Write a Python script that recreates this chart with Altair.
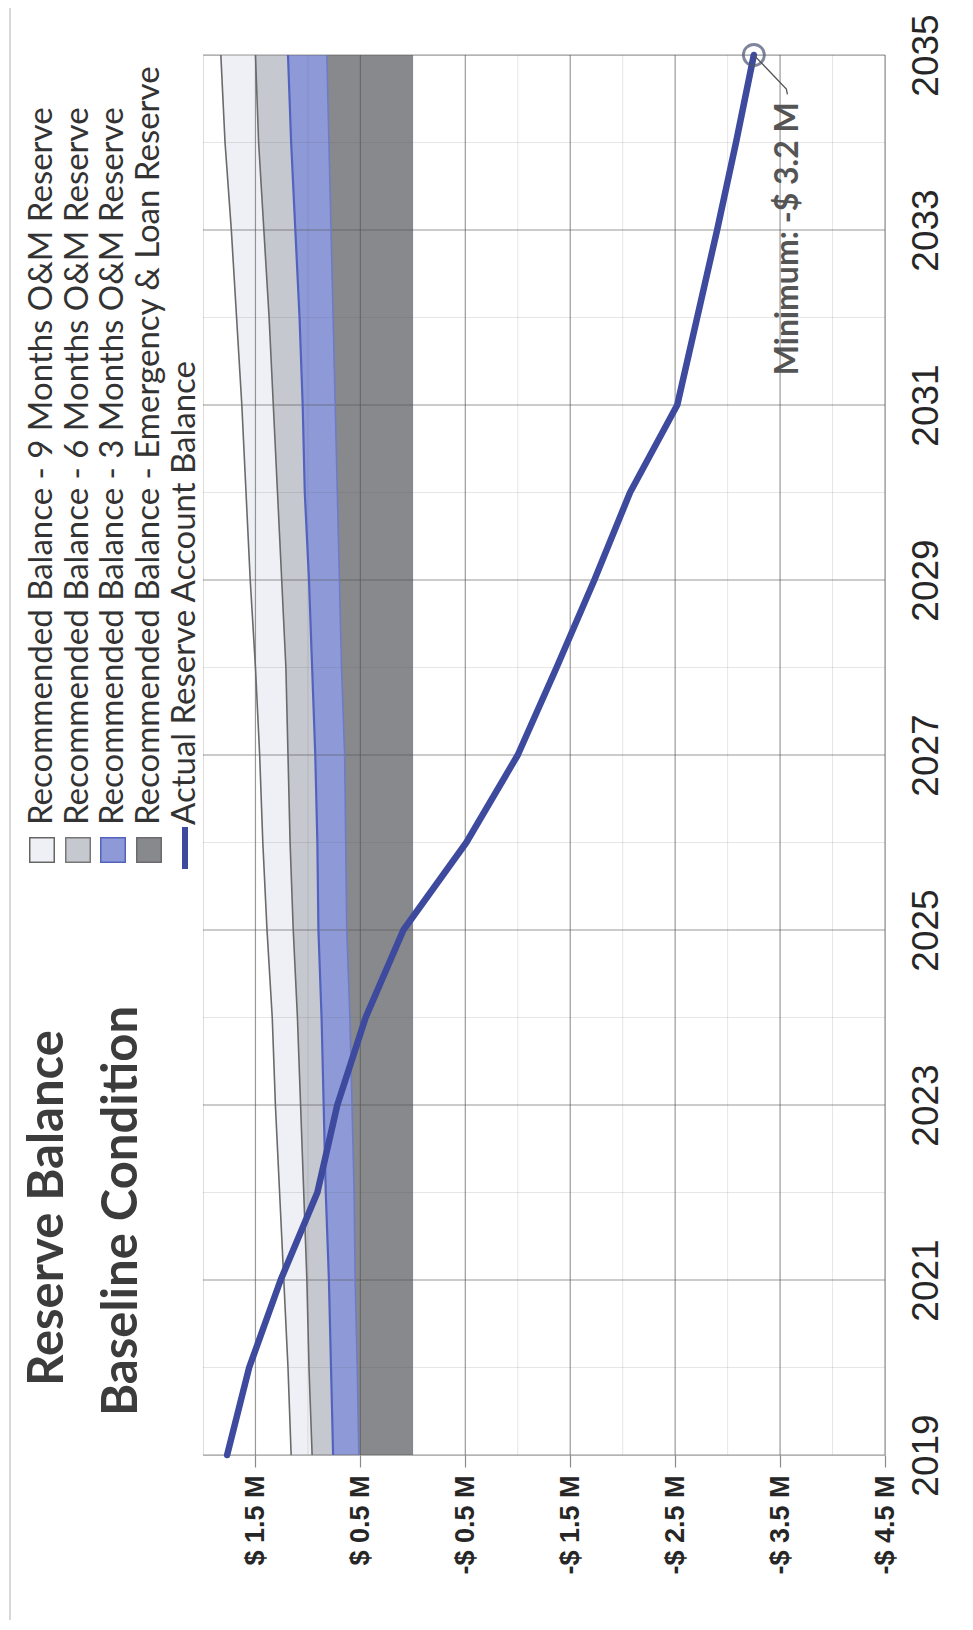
import altair as alt
import pandas as pd

# ---------------- data ----------------
years = list(range(2019, 2036))
actual = [1.77, 1.56, 1.26, 0.91, 0.72, 0.45, 0.09, -0.51, -1.00, -1.37,
          -1.73, -2.07, -2.52, -2.71, -2.90, -3.08, -3.25]
res9 = [1.16, 1.19, 1.23, 1.27, 1.31, 1.34, 1.39, 1.43, 1.46, 1.50,
        1.55, 1.59, 1.63, 1.68, 1.73, 1.79, 1.83]
res6 = [0.96, 0.99, 1.01, 1.04, 1.07, 1.10, 1.14, 1.17, 1.19, 1.21,
        1.25, 1.29, 1.33, 1.37, 1.42, 1.47, 1.50]
res3 = [0.76, 0.78, 0.80, 0.83, 0.85, 0.87, 0.90, 0.91, 0.93, 0.96,
        0.99, 1.03, 1.05, 1.08, 1.12, 1.16, 1.19]
emerg = [0.515, 0.53, 0.55, 0.56, 0.58, 0.60, 0.63, 0.64, 0.65, 0.68,
         0.70, 0.72, 0.74, 0.76, 0.78, 0.80, 0.82]

value_ticks = [1.5, 0.5, -0.5, -1.5, -2.5, -3.5, -4.5]
value_tick_labels = ["$ 1.5 M", "$ 0.5 M", "-$ 0.5 M", "-$ 1.5 M",
                     "-$ 2.5 M", "-$ 3.5 M", "-$ 4.5 M"]
value_minor = [1.0, 0.0, -1.0, -2.0, -3.0, -4.0]
year_ticks = [2019, 2021, 2023, 2025, 2027, 2029, 2031, 2033, 2035]
year_minor = [2020, 2022, 2024, 2026, 2028, 2030, 2032, 2034]

legend_labels = [
    "Recommended Balance - 9 Months O&M Reserve",
    "Recommended Balance - 6 Months O&M Reserve",
    "Recommended Balance - 3 Months O&M Reserve",
    "Recommended Balance - Emergency & Loan Reserve",
    "Actual Reserve Account Balance",
]
title_lines = ["Reserve Balance", "Baseline Condition"]
min_label = "Minimum: -$ 3.2 M"
min_year = 2035
min_value = -3.25

# ---------------- tables ----------------
df = pd.DataFrame({"year": years, "actual": actual, "res9": res9,
                   "res6": res6, "res3": res3, "emerg": emerg})
df["zero"] = 0.0

W, H = 682, 1400
xs = alt.Scale(domain=[-4.5, 2.0], reverse=True, nice=False, zero=False)
ys = alt.Scale(domain=[2019, 2035], nice=False, zero=False)

label_expr = " : ".join(
    f"datum.value == {v} ? '{t}'" for v, t in zip(value_ticks, value_tick_labels)
) + " : ''"

x_axis = alt.Axis(values=value_ticks, labelExpr=label_expr, orient="bottom",
                  grid=False, domain=False, ticks=True, tickSize=12,
                  tickColor="#8a8a8a", tickWidth=1.2,
                  labelAngle=270, labelAlign="right", labelBaseline="middle",
                  labelFont="Liberation Sans", labelFontSize=27,
                  labelFontWeight="bold", labelColor="#262626",
                  labelPadding=8, labelOverlap=False, labelFlush=False,
                  labelBound=False, title=None)
y_axis = alt.Axis(values=year_ticks, format="d", orient="right", grid=False,
                  domain=False, ticks=False, labelAngle=270,
                  labelAlign="center", labelBaseline="top",
                  labelFont="Liberation Sans", labelFontSize=37,
                  labelColor="#262626", labelPadding=23,
                  labelOverlap=False, labelFlush=False, labelBound=False,
                  title=None)


def X(field):
    return alt.X(field, scale=xs, axis=x_axis, title=None)


def Yc(field):
    return alt.Y(field, scale=ys, axis=y_axis, title=None)


base = alt.Chart(df)


def band(field, color):
    return base.mark_area(orient="horizontal", color=color, opacity=1).encode(
        y=Yc("year:Q"), x=X(f"{field}:Q"), x2=alt.X2("zero"))


def edge(field, color, width):
    return base.mark_line(color=color, strokeWidth=width).encode(
        y=Yc("year:Q"), x=X(f"{field}:Q"), order="year:Q")


areas = [
    band("res9", "#eef0f5"),
    band("res6", "#c6c8d0"),
    band("res3", "#8e9ad8"),
    band("emerg", "#88898d"),
]
edges = [
    edge("res9", "#6a6a6a", 1.6),
    edge("res6", "#6a6a6a", 1.6),
    edge("res3", "#5363bd", 2.2),
    edge("emerg", "#6f7cc4", 1.6),
]

grid_v_major = alt.Chart(pd.DataFrame({"v": value_ticks})).mark_rule(
    color="#555555", opacity=0.6, strokeWidth=1.2).encode(x=X("v:Q"))
grid_v_minor = alt.Chart(pd.DataFrame({"v": value_minor})).mark_rule(
    color="#555555", opacity=0.15, strokeWidth=1).encode(x=X("v:Q"))
grid_y_major = alt.Chart(pd.DataFrame({"yy": year_ticks})).mark_rule(
    color="#555555", opacity=0.6, strokeWidth=1.2).encode(y=Yc("yy:Q"))
grid_y_minor = alt.Chart(pd.DataFrame({"yy": year_minor})).mark_rule(
    color="#555555", opacity=0.15, strokeWidth=1).encode(y=Yc("yy:Q"))

line = base.mark_line(color="#3d4a9e", strokeWidth=6.5, strokeCap="round",
                      strokeJoin="round").encode(
    y=Yc("year:Q"), x=X("actual:Q"), order="year:Q")

mdf = pd.DataFrame({"year": [min_year], "v": [min_value]})
marker = alt.Chart(mdf).mark_point(shape="circle", filled=False, size=440,
                                   stroke="#4a5372", strokeWidth=2.8).encode(
    y=Yc("year:Q"), x=X("v:Q"))

# annotation leader (from the marker to the label)
lead = pd.DataFrame({"year": [min_year, 2034.61, 2034.55],
                     "v": [min_value, -3.56, -3.57], "o": [0, 1, 2]})
leader = alt.Chart(lead).mark_line(color="#555555", strokeWidth=1.3).encode(
    y=Yc("year:Q"), x=X("v:Q"), order="o:Q")
min_text = alt.Chart(pd.DataFrame({"year": [2032.9], "v": [-3.575],
                                   "t": [min_label]})).mark_text(
    angle=270, align="center", baseline="middle", font="Lato",
    fontWeight="bold", fontSize=32, color="#555555").encode(
    y=Yc("year:Q"), x=X("v:Q"), text="t:N")

# ---------------- titles ----------------
tdf = pd.DataFrame({"t": title_lines, "px": [-140, -66], "py": [1153, 1156]})
titles = alt.Chart(tdf).mark_text(
    angle=270, align="center", baseline="alphabetic", font="Lato",
    fontWeight="bold", fontSize=49, color="#3c3c3c").encode(
    x=alt.X("px:Q", scale=None), y=alt.Y("py:Q", scale=None), text="t:N")

# ---------------- legend ----------------
keys = ["9", "6", "3", "E", "A"]
leg = pd.DataFrame({"t": legend_labels, "k": keys,
                    "px": [-161, -125, -90, -54, -18],
                    "py": [770] * 5})
leg_text = alt.Chart(leg).mark_text(
    angle=270, align="left", baseline="middle", font="Lato", fontSize=33,
    color="#333333").encode(
    x=alt.X("px:Q", scale=None), y=alt.Y("py:Q", scale=None), text="t:N")
sw = leg.iloc[:4].copy()
sw["sy"] = 795
swatches = alt.Chart(sw).mark_point(shape="square", filled=True, size=600,
                                    strokeWidth=1.5, opacity=1).encode(
    x=alt.X("px:Q", scale=None), y=alt.Y("sy:Q", scale=None),
    fill=alt.Fill("k:N", scale=alt.Scale(domain=keys[:4],
                  range=["#eef0f5", "#c6c8d0", "#8e9ad8", "#88898d"]), legend=None),
    stroke=alt.Stroke("k:N", scale=alt.Scale(domain=keys[:4],
                      range=["#666666", "#777777", "#5363bd", "#6a6a70"]), legend=None))
la = leg.iloc[4:].copy()
la["y1"] = 772
la["y2"] = 814
leg_line = alt.Chart(la).mark_rule(color="#3d4a9e", strokeWidth=6).encode(
    x=alt.X("px:Q", scale=None), y=alt.Y("y1:Q", scale=None),
    y2=alt.Y2("y2:Q"))

page_frame = alt.Chart(pd.DataFrame({"a": [0]})).mark_rect(
    fill=None, stroke="#cccccc", strokeWidth=1.5).encode(
    x=alt.value(-193), x2=alt.value(763), y=alt.value(-50), y2=alt.value(1567))

chart = alt.layer(
    *areas, grid_v_minor, grid_y_minor, grid_v_major, grid_y_major, *edges,
    line, leader, marker, min_text, titles, leg_text, swatches, leg_line,
    page_frame,
).properties(
    width=W, height=H,
    autosize=alt.AutoSizeParams(type="none"),
    padding={"left": 195, "top": 47, "right": 75, "bottom": 165},
).configure_view(stroke="#8a8a8a", strokeWidth=1.2).configure(background="white")

chart.save("out.html", embed_options={"renderer": "svg", "actions": False})
